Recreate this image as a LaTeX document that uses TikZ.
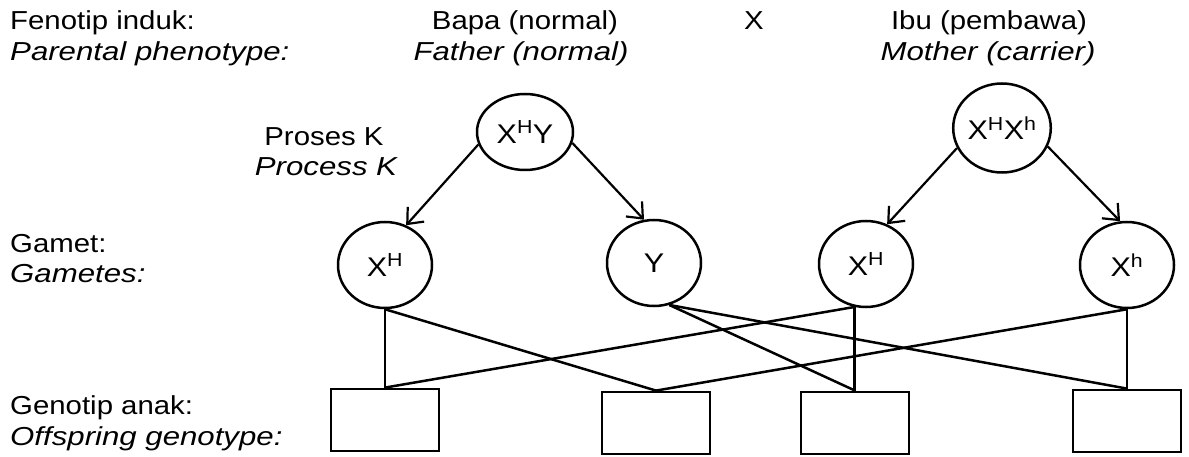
\documentclass[tikz,border=0pt]{standalone}
\usepackage{fontspec}
\setmainfont{Liberation Sans}[FakeStretch=1.13,ItalicFeatures={FakeStretch=1.2}]
\usetikzlibrary{arrows.meta,shapes.geometric}
\begin{document}
\begin{tikzpicture}[x=1pt,y=-1pt,
  txt/.style={font=\fontsize{26}{31}\selectfont, inner sep=0pt},
  lbl/.style={txt, anchor=base west},
  ctr/.style={txt, anchor=base},
  gam/.style={draw, line width=2.5pt, ellipse, minimum width=94pt, minimum height=86pt,
              inner sep=0pt, font=\fontsize{27}{31}\selectfont},
  gbox/.style={draw, line width=2.8pt, minimum width=108pt, minimum height=62pt, inner sep=0pt},
  arr/.style={line width=2.2pt, -{Straight Barb[length=13pt,width=22pt,line width=2.2pt]}},
  ln/.style={line width=2.5pt}]
\useasboundingbox (0,0) rectangle (1189,457);
% left labels
\node[lbl] (l1a) at (10,30) {Fenotip induk:};
\node[lbl] (l1b) at (10,61) {\itshape Parental phenotype:};
\node[lbl] (l2a) at (10,252) {Gamet:};
\node[lbl] (l2b) at (10,283) {\itshape Gametes:};
\node[lbl] (l3a) at (10,414) {Genotip anak:};
\node[lbl] (l3b) at (10,445) {\itshape Offspring genotype:};
% parents
\node[ctr] (pa) at (525,30) {Bapa (normal)};
\node[ctr] (pb) at (521,61) {\itshape Father (normal)};
\node[ctr] (cx) at (754,30) {X};
\node[ctr] (ma) at (989,30) {Ibu (pembawa)};
\node[ctr] (mb) at (988,61) {\itshape Mother (carrier)};
\node[ctr] (pk1) at (324,146) {Proses K};
\node[ctr] (pk2) at (326,176) {\itshape Process K};
% circles
\node[gam, minimum width=96pt, minimum height=76pt] (fa) at (525,132) {X\textsuperscript{H}Y};
\node[gam, minimum width=95pt, minimum height=89pt] (mo) at (1002,128) {X\textsuperscript{H}X\textsuperscript{h}};
\node[gam] (g1) at (385,265) {X\textsuperscript{H}};
\node[gam] (g2) at (654,263) {Y};
\node[gam] (g3) at (866,264) {X\textsuperscript{H}};
\node[gam] (g4) at (1127,265) {X\textsuperscript{h}};
% boxes
\node[gbox] (b1) at (385,420) {};
\node[gbox] (b2) at (656,423) {};
\node[gbox] (b3) at (855,423) {};
\node[gbox] (b4) at (1127,421) {};
% arrows
\draw[arr] (fa.195) -- (g1.62);
\draw[arr] (fa.347) -- (g2.103);
\draw[arr] (mo.204) -- (g3.62);
\draw[arr] (mo.338) -- (g4.99);
% lines
\draw[ln] (g1.south) -- (b1.north);
\draw[ln] (g1.south) -- (b2.north);
\draw[ln] (g2.-70) -- (b3.north);
\draw[ln] (g2.-70) -- (b4.north);
\draw[ln] (g3.-105) -- (g3.-105 |- b3.north);
\draw[ln] (g3.-105) -- (b1.north);
\draw[ln] (g4.south) -- (b4.north);
\draw[ln] (g4.south) -- (b2.north);
\end{tikzpicture}
\end{document}
